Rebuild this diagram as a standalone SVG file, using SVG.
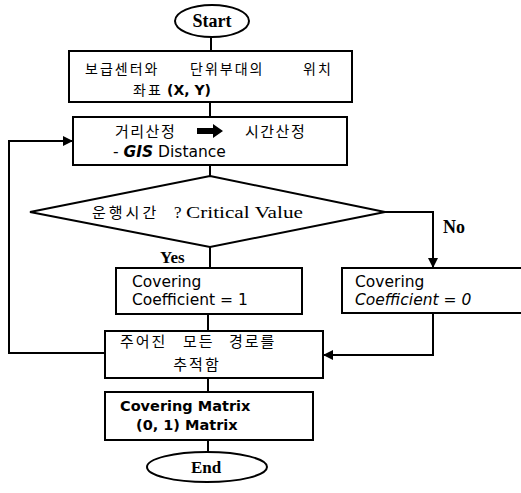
<svg xmlns="http://www.w3.org/2000/svg" width="521" height="493" viewBox="0 0 521 493">
<defs>
<style>
.shape{fill:#fff;stroke:#000;stroke-width:2}
.ln{fill:none;stroke:#000;stroke-width:2}
.ser{font-family:"Liberation Serif","Times New Roman",serif;fill:#000}
.sb{font-family:"Liberation Serif","Times New Roman",serif;font-weight:bold;fill:#000}
.ko{font-family:"Noto Sans CJK KR",sans-serif;fill:#000}
.sans{font-family:"DejaVu Sans",Verdana,sans-serif;fill:#000}
</style>
<marker id="ah" markerWidth="10" markerHeight="10" refX="9" refY="5" orient="auto" markerUnits="userSpaceOnUse">
<path d="M0,0 L10,5 L0,10 Z" fill="#000"/>
</marker>
</defs>
<rect width="521" height="493" fill="#fff"/>
<g id="connectors">
<line class="ln" x1="211" y1="37" x2="211" y2="51"/>
<line class="ln" x1="210" y1="102" x2="210" y2="117"/>
<line class="ln" x1="210" y1="165" x2="210" y2="176"/>
<line class="ln" x1="210" y1="247" x2="210" y2="268"/>
<path class="ln" d="M385,212 H433 V267" marker-end="url(#ah)"/>
<line class="ln" x1="208" y1="314" x2="208" y2="331"/>
<path class="ln" d="M433,313 V355 H324" marker-end="url(#ah)"/>
<path class="ln" d="M105,353 H9 V141 H72" marker-end="url(#ah)"/>
<line class="ln" x1="208" y1="378" x2="208" y2="392"/>
<line class="ln" x1="208" y1="440" x2="208" y2="452"/>
<text class="sb" x="160" y="263" font-size="17">Yes</text>
<text class="sb" x="443" y="233" font-size="18">No</text>
</g>
<g id="start">
<ellipse class="shape" cx="212" cy="21" rx="37" ry="16"/>
<text class="sb" x="212" y="27" font-size="18" text-anchor="middle">Start</text>
</g>
<g id="location">
<rect class="shape" x="69" y="51" width="283" height="51"/>
<text class="ko" y="74" font-size="14" letter-spacing="2"><tspan x="85">보급센터와</tspan><tspan x="190">단위부대의</tspan><tspan x="303">위치</tspan></text>
<text class="ko" x="133" y="95" font-size="14" letter-spacing="2">좌표</text>
<text class="sans" x="167" y="95" font-size="14" font-weight="bold">(X, Y)</text>
</g>
<g id="distance">
<rect class="shape" x="73" y="117" width="274" height="48"/>
<text class="ko" y="137" font-size="15" letter-spacing="1.5"><tspan x="115">거리산정</tspan><tspan x="245">시간산정</tspan></text>
<path d="M197,128 H213 V124 L223,131 L213,138 V134 H197 Z" fill="#000"/>
<text class="sans" x="113" y="157" font-size="15.5">- <tspan font-weight="bold" font-style="italic">GIS</tspan> Distance</text>
</g>
<g id="decision">
<polygon class="shape" points="210,176 385,212 210,247 30,212"/>
<text class="ko" x="92" y="218" font-size="15" letter-spacing="3">운행시간</text>
<text class="ser" x="174" y="218" font-size="17">?</text>
<text class="ser" x="186" y="218" font-size="17" textLength="117" lengthAdjust="spacingAndGlyphs">Critical Value</text>
</g>
<g id="cover1">
<rect class="shape" x="116" y="268" width="186" height="46"/>
<text class="sans" x="132" y="287" font-size="15.5">Covering</text>
<text class="sans" x="132" y="305" font-size="15.5">Coefficient = 1</text>
</g>
<g id="cover0">
<rect class="shape" x="342" y="268" width="190" height="45"/>
<text class="sans" x="355" y="287" font-size="15.5">Covering</text>
<text class="sans" x="355" y="305" font-size="15.5" font-style="italic">Coefficient = 0</text>
</g>
<g id="trace">
<rect class="shape" x="105" y="331" width="218" height="47"/>
<text class="ko" y="347" font-size="15" letter-spacing="2"><tspan x="120">주어진</tspan><tspan x="183">모든</tspan><tspan x="229">경로를</tspan></text>
<text class="ko" x="197" y="370" font-size="15" letter-spacing="2" text-anchor="middle">추적함</text>
</g>
<g id="matrix">
<rect class="shape" x="105" y="392" width="208" height="48"/>
<text class="sans" x="120" y="411" font-size="14.5" font-weight="bold">Covering Matrix</text>
<text class="sans" x="136" y="430" font-size="14.5" font-weight="bold">(0, 1) Matrix</text>
</g>
<g id="end">
<ellipse class="shape" cx="207" cy="467" rx="60" ry="15"/>
<text class="sb" x="206" y="473" font-size="17" text-anchor="middle">End</text>
</g>
</svg>
